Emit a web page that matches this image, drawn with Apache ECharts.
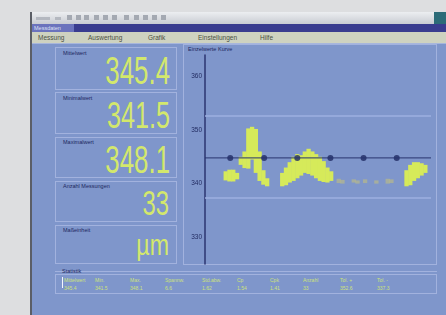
<!DOCTYPE html>
<html><head><meta charset="utf-8">
<script src="https://cdn.jsdelivr.net/npm/echarts@6/dist/echarts.min.js"></script>
<style>
html,body{margin:0;padding:0}
body{width:446px;height:315px;background:#dddee0;overflow:hidden;position:relative;font-family:"Liberation Sans",Arial,sans-serif}
div{position:absolute;box-sizing:border-box}
.lbl{font-size:5.5px;color:#1d2660;white-space:nowrap;line-height:6px}
.box{border:1px solid #a2b2de}
.val{color:#d3e86c;white-space:nowrap;text-align:right;transform:scaleX(0.68);transform-origin:100% 50%;line-height:1}
.tab{font-size:6.5px;color:#4a5042;top:34px;white-space:nowrap;line-height:7px}
.st{font-size:5px;color:#cde17a;white-space:nowrap;line-height:6px}
.ic{top:15px;width:5px;height:5px;background:#a4a9b2}
</style></head><body>
<div style="left:30px;top:12px;width:2px;height:303px;background:#5b5e66"></div>
<div style="left:32px;top:12px;width:414px;height:12px;background:linear-gradient(#eceef1,#c9ccd3)"></div>
<div class="ic" style="left:36px;width:14px;height:3px;top:17px;background:#b4b8c0"></div>
<div class="ic" style="left:55px;width:6px;height:3px;top:17px;background:#b4b8c0"></div>
<div class="ic" style="left:67px"></div>
<div class="ic" style="left:76px"></div>
<div class="ic" style="left:84px"></div>
<div class="ic" style="left:94px"></div>
<div class="ic" style="left:103px"></div>
<div class="ic" style="left:112px"></div>
<div class="ic" style="left:124px"></div>
<div class="ic" style="left:134px"></div>
<div class="ic" style="left:143px"></div>
<div class="ic" style="left:152px"></div>
<div class="ic" style="left:161px"></div>
<div style="left:434px;top:12px;width:12px;height:12px;background:#2c6b78"></div>
<div style="left:32px;top:24px;width:414px;height:8px;background:#393c8f"></div>
<div style="left:32px;top:24px;width:42px;height:8px;background:#6b73bd"></div>
<div class="lbl" style="left:34px;top:25px;color:#dfe2f6">Messdaten</div>
<div style="left:32px;top:32px;width:414px;height:11px;background:#ced2c0"></div>
<div class="tab" style="left:38px">Messung</div>
<div class="tab" style="left:88px">Auswertung</div>
<div class="tab" style="left:148px">Grafik</div>
<div class="tab" style="left:198px">Einstellungen</div>
<div class="tab" style="left:260px">Hilfe</div>
<div style="left:32px;top:43px;width:414px;height:272px;background:#7f96cb"></div>
<div style="left:32px;top:43px;width:414px;height:1px;background:#a7b6dc"></div>

<div class="box" style="left:55px;top:47px;width:122px;height:43px"></div>
<div class="lbl" style="left:63px;top:50px">Mittelwert</div>
<div class="val" style="left:40px;width:130px;top:52px;font-size:38px" id="v1"></div>

<div class="box" style="left:55px;top:92px;width:122px;height:42px"></div>
<div class="lbl" style="left:63px;top:95px">Minimalwert</div>
<div class="val" style="left:40px;width:130px;top:97px;font-size:37px" id="v2"></div>

<div class="box" style="left:55px;top:137px;width:122px;height:41px"></div>
<div class="lbl" style="left:63px;top:139px">Maximalwert</div>
<div class="val" style="left:40px;width:130px;top:141px;font-size:38px" id="v3"></div>

<div class="box" style="left:55px;top:181px;width:122px;height:41px"></div>
<div class="lbl" style="left:63px;top:183px">Anzahl Messungen</div>
<div class="val" style="left:40px;width:129px;top:185px;font-size:35px" id="v4"></div>

<div class="box" style="left:55px;top:225px;width:122px;height:39px"></div>
<div class="lbl" style="left:63px;top:227px">Maßeinheit</div>
<div class="val" style="left:40px;width:129px;top:231px;font-size:29px;transform:scaleX(0.8)" id="v5"></div>

<div class="box" style="left:183px;top:44px;width:254px;height:221px"></div>
<div class="lbl" style="left:188px;top:46px">Einzelwerte Kurve</div>
<div id="chart" style="left:184px;top:45px;width:252px;height:220px"></div>

<div style="left:55px;top:271px;width:382px;height:1px;background:#a2b2de"></div>
<div class="lbl" style="left:62px;top:268px">Statistik</div>
<div class="box" style="left:55px;top:274px;width:382px;height:20px"></div>
<div style="left:62px;top:277px;width:1px;height:11px;background:#f4f6ff"></div>
<div id="stats"></div>

<script>
// ---- data ----
const readoutValues = ['345.4', '341.5', '348.1', '33', 'µm'];
const statNames  = ['Mittelwert', 'Min.', 'Max.', 'Spannw.', 'Std.abw.', 'Cp', 'Cpk', 'Anzahl', 'Tol. +', 'Tol. -'];
const statValues = ['345.4', '341.5', '348.1', '6.6', '1.62', '1.54', '1.41', '33', '352.6', '337.3'];
const statX = [64, 95, 130, 165, 202, 237, 270, 303, 340, 377];

const categories = ['0','1','2','3','4','5','6','7','8','9','10','11','12','13','14','15','16','17','18','19',
  '20','21','22','23','24','25','26','27','28','29','30','31','32','33','34','35','36','37','38','39',
  '40','41','42','43','44','45','46','47','48','49','50','51','52','53','54','55','56','57','58','59'];
const lowValues = ['-','-','-','-','-',340.6,340.4,340.4,340.8,343.5,
  342.9,342.8,344.5,342.0,340.5,339.8,339.5,'-','-','-',
  339.5,339.7,340.2,340.5,341.0,341.5,342.0,341.8,341.5,341.0,
  340.5,340.3,340.2,340.5,'-','-','-','-','-','-',
  '-','-','-','-','-','-','-','-','-','-',
  '-','-','-',339.5,339.7,340.5,341.0,341.5,342.0,'-'];
const highValues = ['-','-','-','-','-',342.3,342.6,342.6,342.0,345.0,
  346.0,350.3,350.6,350.2,346.0,342.5,341.0,'-','-','-',
  342.0,343.0,344.0,345.0,345.5,345.3,346.0,346.5,346.0,345.5,
  345.0,344.2,343.0,342.3,'-','-','-','-','-','-',
  '-','-','-','-','-','-','-','-','-','-',
  '-','-','-',342.5,343.5,344.0,344.0,343.8,343.5,'-'];
const faintLow = ['-','-','-','-','-','-','-','-','-','-','-','-','-','-','-','-','-','-','-','-',
  '-','-','-','-','-','-','-','-','-','-','-','-','-','-','-',340.1,340.0,'-','-',340.2,
  340.0,'-',340.1,'-','-',340.0,'-','-',340.0,340.1,'-','-','-','-','-','-','-','-','-','-'];
const faintHigh = ['-','-','-','-','-','-','-','-','-','-','-','-','-','-','-','-','-','-','-','-',
  '-','-','-','-','-','-','-','-','-','-','-','-','-','-','-',340.9,340.7,'-','-',340.8,
  340.6,'-',340.8,'-','-',340.6,'-','-',340.9,340.8,'-','-','-','-','-','-','-','-','-','-'];
const centerValue = 344.8;
const dotX = [6.7, 15.7, 24.5, 33.3, 42.1, 50.9];
const limitValues = [352.6, 337.3];

// ---- UI texts ----
['v1','v2','v3','v4','v5'].forEach((id, i) => document.getElementById(id).textContent = readoutValues[i]);
const st = document.getElementById('stats');
statNames.forEach((n, i) => {
  const a = document.createElement('div'); a.className = 'st';
  a.style.left = statX[i] + 'px'; a.style.top = '277px'; a.textContent = n;
  const b = document.createElement('div'); b.className = 'st';
  b.style.left = statX[i] + 'px'; b.style.top = '285px'; b.textContent = statValues[i];
  st.appendChild(a); st.appendChild(b);
});

// ---- chart ----
const span = (lo, hi) => lo.map((v, i) => (v === '-' || hi[i] === '-') ? '-' : +(hi[i] - v).toFixed(2));
const chart = echarts.init(document.getElementById('chart'));
chart.setOption({
  animation: false,
  backgroundColor: 'transparent',
  grid: { left: 21, right: 5, top: 10, bottom: 1 },
  xAxis: [
    { type: 'category', data: categories, show: false, boundaryGap: true },
    { type: 'value', min: 0, max: 60, show: false }
  ],
  yAxis: {
    type: 'value', min: 325, max: 364, interval: 5,
    axisLine: { show: true, lineStyle: { color: '#2b3470', width: 1.5 } },
    axisTick: { show: false }, splitLine: { show: false },
    axisLabel: { fontSize: 6.5, color: '#222c62', margin: 3, fontFamily: 'Liberation Sans',
      formatter: v => (v % 10 === 0 ? String(v) : '') }
  },
  series: [
    { type: 'bar', stack: 'm', data: lowValues, silent: true, barWidth: 4.3, barGap: '-100%',
      itemStyle: { color: 'rgba(0,0,0,0)' } },
    { type: 'bar', stack: 'm', data: span(lowValues, highValues), barWidth: 4.3, barGap: '-100%',
      itemStyle: { color: '#d6ea5a' } },
    { type: 'bar', stack: 'f', data: faintLow, silent: true, barWidth: 4.3, barGap: '-100%',
      itemStyle: { color: 'rgba(0,0,0,0)' } },
    { type: 'bar', stack: 'f', data: span(faintLow, faintHigh), barWidth: 4.3, barGap: '-100%',
      itemStyle: { color: '#c6c27a', opacity: 0.55 } },
    { type: 'line', xAxisIndex: 1, data: [[0, centerValue], [60, centerValue]], symbol: 'none',
      lineStyle: { color: '#28336e', width: 1 },
      markLine: { silent: true, symbol: 'none', label: { show: false },
        lineStyle: { color: '#9cafe0', width: 1.5, type: 'solid' },
        data: limitValues.map(v => ({ yAxis: v })) } },
    { type: 'scatter', xAxisIndex: 1, data: dotX.map(x => [x, centerValue]), symbolSize: 6,
      itemStyle: { color: '#1f2a63' } }
  ]
});
</script>
</body></html>
